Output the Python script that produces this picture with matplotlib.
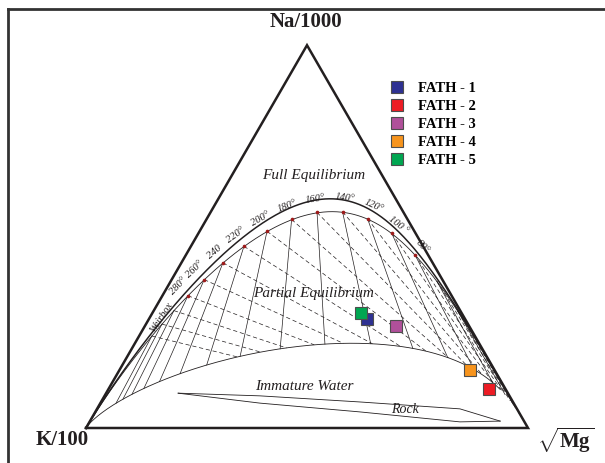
import numpy as np
import matplotlib.pyplot as plt
from matplotlib.lines import Line2D

plt.rcParams['font.family'] = ['Liberation Serif', 'DejaVu Serif']
plt.rcParams['mathtext.fontset'] = 'custom'
plt.rcParams['mathtext.rm'] = 'Liberation Serif'
plt.rcParams['mathtext.bf'] = 'Liberation Serif:bold'

# samples: relative Na/1000, K/100 and sqrt(Mg), in %
samples = ['FATH - 1', 'FATH - 2', 'FATH - 3', 'FATH - 4', 'FATH - 5']
na = [28.5, 10.2, 26.7, 15.2, 30.0]
k = [22.2, 3.7, 16.5, 5.6, 22.8]
mg = [49.3, 86.1, 56.8, 79.2, 47.2]
colors = ['#2e3192', '#ed1c24', '#b0509a', '#f7941d', '#00a651']

# isotherms (deg C) and the labelled ones
temps = np.arange(20, 341, 20)
label_temps = [80, 100, 120, 140, 160, 180, 200, 220, 240, 260, 280]
label_text = ['80°', '100 °', '120°', '140°', '160°', '180°', '200°', '220°', '240', '260°', '280°']

# rock dissolution field (Na, K, Mg %)
rock_upper_na = [9.1, 8.4, 6.8, 5.0, 1.8]
rock_upper_k = [74.6, 56.5, 34.6, 12.9, 5.4]
rock_upper_mg = [16.3, 35.1, 58.6, 82.1, 92.8]
rock_lower_na = [9.1, 6.5, 4.2, 1.6, 1.8]
rock_lower_k = [74.6, 57.4, 35.9, 14.6, 5.4]
rock_lower_mg = [16.3, 36.1, 59.9, 83.8, 92.8]

MI_FULL, MI_PARTIAL, MI_OUTER = 2.66, 2.0, 2.72


def tern(n, kk, m):
    n, kk, m = np.asarray(n, float), np.asarray(kk, float), np.asarray(m, float)
    s = n + kk + m
    return (m + n / 2) / s, np.sqrt(3) / 2 * n / s


def gig(c, L):
    # c = log(Na/K), L = log(K^2/Mg)
    n = 10 ** np.asarray(c) / 10
    m = 100 / 10 ** (np.asarray(L) / 2)
    return tern(n, np.ones_like(n), m)


def mi_curve(mi, L):
    return gig(mi - 0.315 * L, L)


def eq_point(t):
    tk = t + 273.15
    return 1390 / tk - 1.75, 14 - 4410 / tk


fig = plt.figure(figsize=(6.05, 4.63), dpi=100)
ax = fig.add_axes([0, 0, 1, 1])
ax.set_xlim(-86 / 442, 519 / 442)
ax.set_ylim(-35 / 442, 428 / 442)
ax.axis('off')

# triangle
h = np.sqrt(3) / 2
ax.plot([0, 1, 0.5, 0], [0, 0, h, 0], color='#231f20', lw=1.8, solid_joinstyle='miter')

# equilibrium and maturity curves
L = np.linspace(-3, 14, 600)
ax.plot(*mi_curve(MI_OUTER, L), color='#231f20', lw=1.1)
ax.plot(*mi_curve(MI_FULL, L), color='#231f20', lw=0.6)
Lp = np.linspace(0.3, 14, 400)
ax.plot(*mi_curve(MI_PARTIAL, Lp), color='#231f20', lw=0.6)

# isotherms: K-Mg solid, Na-K dashed
for t in temps:
    c0, L0 = eq_point(t)
    cs = np.linspace(c0, MI_PARTIAL - 0.315 * L0, 20)
    ax.plot(*gig(cs, np.full_like(cs, L0)), color='#231f20', lw=0.5)
    Ls = np.linspace(L0, (MI_PARTIAL - c0) / 0.315, 60)
    ax.plot(*gig(np.full_like(Ls, c0), Ls), color='#231f20', lw=0.5,
            dashes=(6, 4))

# temperature labels outside the full equilibrium curve
for t, txt in zip(label_temps, label_text):
    c0, L0 = eq_point(t)
    px, py = gig(c0, L0)
    ax.plot(px, py, 'o', ms=1.6, color='#9e1b1b', zorder=3)
    x1, y1 = gig(c0 + 0.315 * 0.05, L0 - 0.05)
    dx, dy = x1 - px, y1 - py
    ang = np.degrees(np.arctan2(dy, dx))
    if ang > 90:
        ang -= 180
    elif ang < -90:
        ang += 180
    nrm = np.array([-dy, dx]) / np.hypot(dx, dy)
    if nrm[1] < 0:
        nrm = -nrm
    off = 10 if t > 100 else 8
    ax.annotate(txt, (px, py), xytext=(nrm[0] * off, nrm[1] * off),
                textcoords='offset points', ha='center', va='center',
                rotation=ang, rotation_mode='anchor', fontsize=7.5, style='italic',
                color='#231f20')

# rock field
ax.plot(*tern(rock_upper_na, rock_upper_k, rock_upper_mg), color='#231f20', lw=0.6)
ax.plot(*tern(rock_lower_na, rock_lower_k, rock_lower_mg), color='#231f20', lw=0.6)

# samples
sx, sy = tern(na, k, mg)
for i in range(len(samples)):
    ax.plot(sx[i], sy[i], 's', ms=8.8, mfc=colors[i], mec='#4d4d4d', mew=0.8, zorder=5)

# field labels
kw = dict(ha='center', va='center', style='italic', color='#231f20')
ax.text(0.514, 0.572, 'Full Equilibrium', fontsize=11, **kw)
ax.text(0.514, 0.305, 'Partial Equilibrium', fontsize=11, **kw)
ax.text(0.493, 0.095, 'Immature Water', fontsize=11, **kw)
ax.text(0.722, 0.041, 'Rock', fontsize=10, **kw)
ax.text(0.172, 0.250, 'Weirbox', fontsize=7.5, rotation=57, **kw)

# vertex labels
ax.text(0.498, 0.918, 'Na/1000', fontsize=15, fontweight='bold', ha='center', va='center', color='#231f20')
ax.text(-0.054, -0.027, 'K/100', fontsize=15, fontweight='bold', ha='center', va='center', color='#231f20')
ax.text(1.084, -0.027, r'$\sqrt{\mathbf{Mg}}$', fontsize=15, ha='center', va='center', color='#231f20')

# legend
handles = [Line2D([], [], ls='none', marker='s', ms=8.8, mfc=c, mec='#4d4d4d', mew=0.8)
           for c in colors]
leg = ax.legend(handles, samples, loc='upper left', bbox_to_anchor=(390 / 605, 1 - 82 / 463),
                frameon=False, handletextpad=0.9, labelspacing=0.33, handlelength=1.0,
                prop={'family': 'Liberation Serif', 'weight': 'bold', 'size': 10.5},
                bbox_transform=fig.transFigure, borderaxespad=0, borderpad=0)

# outer frame
fig.add_artist(Line2D([8 / 605, 1], [1 - 9 / 463] * 2, transform=fig.transFigure, color='#333333', lw=2))
fig.add_artist(Line2D([8 / 605] * 2, [0, 1 - 9 / 463], transform=fig.transFigure, color='#333333', lw=2))

fig.savefig('out.png', dpi=100)
